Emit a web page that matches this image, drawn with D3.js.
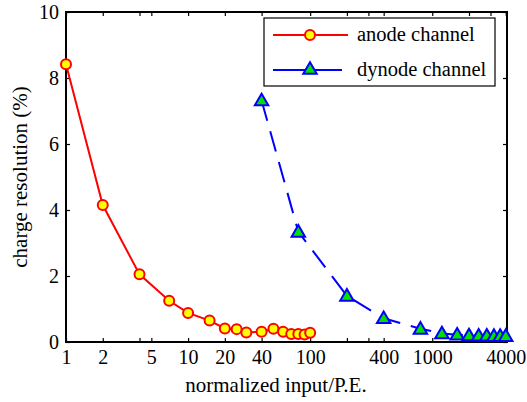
<!DOCTYPE html>
<html>
<head>
<meta charset="utf-8">
<script src="https://cdn.jsdelivr.net/npm/d3@7"></script>
<style>
  html, body { margin: 0; padding: 0; background: #fff; }
  svg { display: block; }
  svg text { font-family: "Liberation Serif", "Times New Roman", serif; fill: #000; }
</style>
</head>
<body>
<svg id="chart" width="527" height="402"></svg>
<script>
// Anode channel: input (P.E.) vs charge resolution (%)
const anodeInput = [1, 2, 4, 7, 10, 15, 20, 25, 30, 40, 50, 60, 70, 80, 90, 100];
const anodeRes   = [8.42, 4.15, 2.05, 1.25, 0.88, 0.65, 0.41, 0.39, 0.29, 0.31, 0.40, 0.31, 0.24, 0.24, 0.23, 0.28];

// Dynode channel
const dynodeInput = [40, 80, 200, 400, 800, 1200, 1600, 2000, 2400, 2800, 3200, 3600, 4000];
const dynodeRes   = [7.32, 3.34, 1.40, 0.72, 0.40, 0.26, 0.22, 0.20, 0.19, 0.19, 0.18, 0.18, 0.18];

// Axis ticks
const xTickValues = [1, 2, 4, 5, 10, 20, 40, 100, 200, 300, 400, 1000, 2000, 3000, 4000];
const xTickLabels = [1, 2, 5, 10, 20, 40, 100, 400, 1000, 4000];
const yTickValues = [0, 2, 4, 6, 8, 10];

const seriesNames = ["anode channel", "dynode channel"];

const svg = d3.select("#chart");
const m = { left: 66, right: 507, top: 12, bottom: 342 };

const x = d3.scaleLog().domain([1, 4096]).range([m.left, m.right]);
const y = d3.scaleLinear().domain([0, 10]).range([m.bottom, m.top]);

const tickLen = 4;
const fmt = d => xTickLabels.includes(d) ? String(d) : "";

// Axes: ticks point inward on all four sides
const gB = svg.append("g").attr("transform", `translate(0,${m.bottom})`)
  .call(d3.axisBottom(x).tickValues(xTickValues).tickFormat(fmt).tickSizeInner(-tickLen).tickSizeOuter(0).tickPadding(8));
const gT = svg.append("g").attr("transform", `translate(0,${m.top})`)
  .call(d3.axisTop(x).tickValues(xTickValues).tickFormat("").tickSizeInner(-tickLen).tickSizeOuter(0));
const gL = svg.append("g").attr("transform", `translate(${m.left},0)`)
  .call(d3.axisLeft(y).tickValues(yTickValues).tickFormat(d3.format("d")).tickSizeInner(-tickLen).tickSizeOuter(0).tickPadding(7));
const gR = svg.append("g").attr("transform", `translate(${m.right},0)`)
  .call(d3.axisRight(y).tickValues(yTickValues).tickFormat("").tickSizeInner(-tickLen).tickSizeOuter(0));

[gB, gT, gL, gR].forEach(g => {
  g.attr("font-family", null);
  g.select(".domain").remove();
  g.selectAll(".tick line").attr("stroke", "#000").attr("stroke-width", 1.2);
  g.selectAll(".tick text").attr("font-size", 20);
});

// Box frame
svg.append("rect")
  .attr("x", m.left).attr("y", m.top)
  .attr("width", m.right - m.left).attr("height", m.bottom - m.top)
  .attr("fill", "none").attr("stroke", "#000").attr("stroke-width", 2);

const line = d3.line().x(d => x(d[0])).y(d => y(d[1]));
const anode = anodeInput.map((v, i) => [v, anodeRes[i]]);
const dynode = dynodeInput.map((v, i) => [v, dynodeRes[i]]);

// Anode series
svg.append("path").datum(anode).attr("d", line)
  .attr("fill", "none").attr("stroke", "#ff0000").attr("stroke-width", 2);
svg.append("g").selectAll("circle").data(anode).join("circle")
  .attr("cx", d => x(d[0])).attr("cy", d => y(d[1])).attr("r", 5)
  .attr("fill", "#ffff00").attr("stroke", "#ff0000").attr("stroke-width", 2);

// Dynode series
const tri = d3.symbol().type(d3.symbolTriangle).size(78);
svg.append("path").datum(dynode).attr("d", line)
  .attr("fill", "none").attr("stroke", "#0000ff").attr("stroke-width", 2)
  .attr("stroke-dasharray", "21,11");
svg.append("g").selectAll("path").data(dynode).join("path")
  .attr("d", tri)
  .attr("transform", d => `translate(${x(d[0])},${y(d[1]) + 1})`)
  .attr("fill", "#00e000").attr("stroke", "#0000ff").attr("stroke-width", 2);

// Legend
const lg = svg.append("g");
lg.append("rect").attr("x", 264).attr("y", 18).attr("width", 231).attr("height", 68)
  .attr("fill", "#fff").attr("stroke", "#000").attr("stroke-width", 1.2);
const rows = [
  { y: 35, color: "#ff0000", x2: 348, kind: "circle" },
  { y: 70, color: "#0000ff", x2: 342, kind: "tri" }
];
rows.forEach((r, i) => {
  lg.append("line").attr("x1", 273).attr("x2", r.x2).attr("y1", r.y).attr("y2", r.y)
    .attr("stroke", r.color).attr("stroke-width", 2);
  if (r.kind === "circle") {
    lg.append("circle").attr("cx", 310).attr("cy", r.y).attr("r", 5)
      .attr("fill", "#ffff00").attr("stroke", "#ff0000").attr("stroke-width", 2);
  } else {
    lg.append("path").attr("d", tri).attr("transform", `translate(310,${r.y})`)
      .attr("fill", "#00e000").attr("stroke", "#0000ff").attr("stroke-width", 2);
  }
  lg.append("text").attr("x", 357).attr("y", r.y + 6).attr("font-size", 20.5)
    .text(seriesNames[i]);
});

// Axis titles
svg.append("text").attr("x", 276).attr("y", 392).attr("text-anchor", "middle")
  .attr("font-size", 21).text("normalized input/P.E.");
svg.append("text").attr("transform", `translate(27,${(m.top + m.bottom) / 2}) rotate(-90)`)
  .attr("text-anchor", "middle").attr("font-size", 21)
  .text("charge resolution (%)");
</script>
</body>
</html>
